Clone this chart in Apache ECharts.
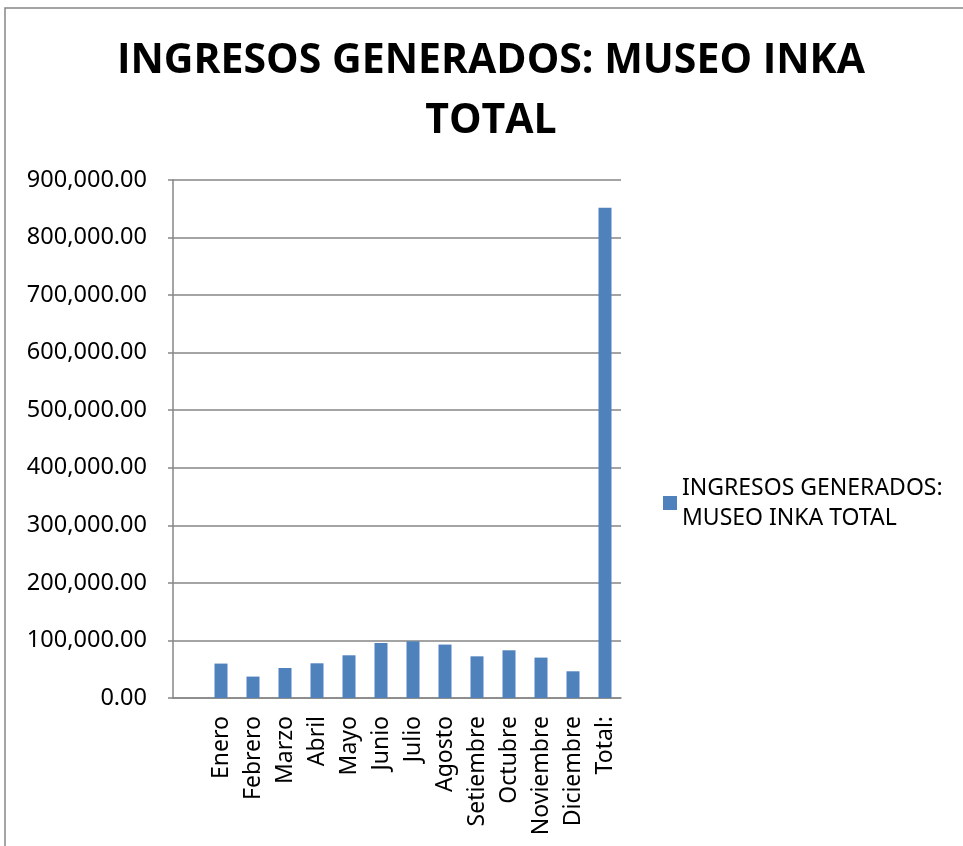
<!DOCTYPE html>
<html>
<head>
<meta charset="utf-8">
<script src="https://cdn.jsdelivr.net/npm/echarts@6/dist/echarts.min.js"></script>
<style>
  html, body { margin: 0; padding: 0; background: #fff; }
  #main { width: 963px; height: 846px; }
</style>
</head>
<body>
<div id="main"></div>
<script>
// categorias (la primera vacia, como en el original)
var categorias = ['', 'Enero', 'Febrero', 'Marzo', 'Abril', 'Mayo', 'Junio', 'Julio',
  'Agosto', 'Setiembre', 'Octubre', 'Noviembre', 'Diciembre', 'Total:'];
var ingresos = [null, 59800, 37200, 52100, 60300, 74200, 95600, 98500,
  92800, 72400, 82900, 70200, 46400, 852000];
var serieNombre = 'INGRESOS GENERADOS: MUSEO INKA TOTAL';
var yMax = 900000;
var yPaso = 100000;

var chartDom = document.getElementById('main');
var myChart = echarts.init(chartDom);
var option;

option = {
  animation: false,
  backgroundColor: '#fff',
  textStyle: { fontFamily: 'Noto Sans' },
  title: {
    text: 'INGRESOS GENERADOS: MUSEO INKA\nTOTAL',
    left: 486,
    textAlign: 'center',
    top: 26,
    textStyle: {
      fontFamily: 'Open Sans',
      fontWeight: 'bold',
      fontSize: 41,
      lineHeight: 60,
      color: '#000'
    }
  },
  legend: {
    left: 658,
    top: 468,
    orient: 'vertical',
    icon: 'rect',
    itemWidth: 14,
    itemHeight: 14,
    itemGap: 8,
    formatter: function () { return 'INGRESOS GENERADOS:\nMUSEO INKA TOTAL'; },
    textStyle: { fontSize: 23, lineHeight: 30, color: '#000', fontFamily: 'Noto Sans' }
  },
  grid: {
    left: 173,
    top: 180,
    width: 448,
    height: 518,
    containLabel: false
  },
  xAxis: {
    type: 'category',
    data: categorias,
    axisLine: { lineStyle: { color: '#868686', width: 1.5 } },
    axisTick: { length: 5, lineStyle: { color: '#868686', width: 1.5 } },
    axisLabel: {
      rotate: 90,
      interval: 0,
      margin: 18,
      fontSize: 23,
      color: '#000',
      fontFamily: 'Noto Sans'
    }
  },
  yAxis: {
    type: 'value',
    min: 0,
    max: yMax,
    interval: yPaso,
    axisLine: { show: true, lineStyle: { color: '#868686', width: 1.5 } },
    axisTick: { show: true, length: 5, lineStyle: { color: '#868686', width: 1.5 } },
    splitLine: { lineStyle: { color: '#868686', width: 1.5 } },
    axisLabel: {
      margin: 26,
      fontSize: 23.5,
      color: '#000',
      fontFamily: 'Noto Sans',
      formatter: function (v) {
        return v.toLocaleString('en-US', { minimumFractionDigits: 2, maximumFractionDigits: 2 });
      }
    }
  },
  graphic: [
    {
      type: 'rect',
      shape: { x: 5, y: 8, width: 1000, height: 900 },
      style: { fill: 'none', stroke: '#868686', lineWidth: 1.5 },
      silent: true
    }
  ],
  series: [
    {
      name: serieNombre,
      type: 'bar',
      data: ingresos,
      barWidth: 13,
      itemStyle: { color: '#4F81BD' }
    }
  ]
};

option && myChart.setOption(option);
</script>
</body>
</html>
